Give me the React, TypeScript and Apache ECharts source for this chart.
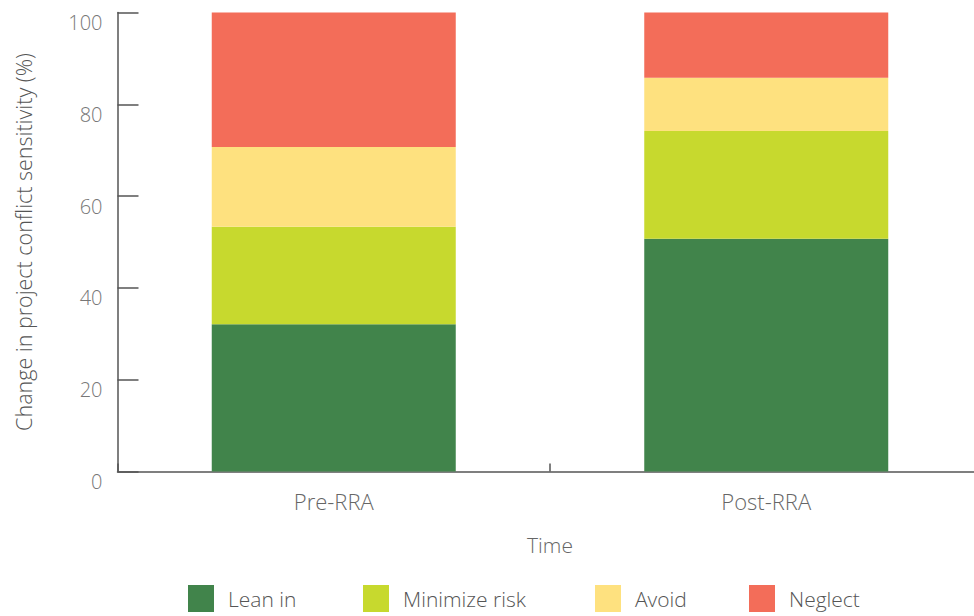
import React, { useEffect, useRef } from "react";
import * as echarts from "echarts";

const categories = ["Pre-RRA", "Post-RRA"];
const seriesNames = ["Lean in", "Minimize risk", "Avoid", "Neglect"];
const leanIn = [32.1, 50.7];
const minimizeRisk = [21.2, 23.5];
const avoid = [17.4, 11.6];
const neglect = [29.3, 14.2];
const yTicks = { min: 0, max: 100, interval: 20 };
const colors = ["#41844b", "#c7d92e", "#fee17f", "#f36d59"];
const legendLefts = [188, 363, 595, 749];

const FONT = "'Open Sans', Lato, sans-serif";

export default function App() {
  const ref = useRef<HTMLDivElement>(null);
  useEffect(() => {
    if (!ref.current) return;
    const chart = echarts.init(ref.current, undefined, { renderer: "svg" });
    const values = [leanIn, minimizeRisk, avoid, neglect];
    chart.setOption({
      animation: false,
      textStyle: { fontFamily: FONT },
      grid: {
        left: 117.5,
        width: 865,
        top: 12.5,
        bottom: 144.5,
        containLabel: false,
        outerBoundsMode: "none",
      },
      legend: seriesNames.map((name, i) => ({
        left: legendLefts[i],
        top: 585,
        padding: 0,
        itemWidth: 26,
        itemHeight: 27,
        icon: "rect",
        textStyle: { fontSize: 21, color: "#555", fontFamily: FONT, fontWeight: 300, padding: [0, 0, 0, 9] },
        data: [name],
      })),
      xAxis: {
        type: "category",
        data: categories,
        name: "Time",
        nameLocation: "middle",
        nameGap: 63,
        nameTextStyle: { fontSize: 21, color: "#666", fontFamily: FONT, fontWeight: 300 },
        axisLine: { lineStyle: { color: "#555", width: 1.5 } },
        axisTick: { show: true, inside: true, length: 8, lineStyle: { color: "#555", width: 1.5 } },
        axisLabel: { fontSize: 22, color: "#666", margin: 18, fontFamily: FONT, fontWeight: 300 },
      },
      yAxis: {
        type: "value",
        min: yTicks.min,
        max: yTicks.max,
        interval: yTicks.interval,
        name: "Change in project conflict sensitivity (%)",
        nameLocation: "middle",
        nameGap: 83,
        nameTextStyle: { fontSize: 21.5, color: "#555", fontFamily: FONT, fontWeight: 300 },
        splitLine: { show: false },
        axisLine: { show: true, lineStyle: { color: "#555", width: 1.5 } },
        axisTick: { show: true, inside: true, length: 21, lineStyle: { color: "#555", width: 1.5 } },
        axisLabel: {
          fontSize: 20,
          color: "#777",
          margin: 15,
          verticalAlign: "top",
          fontFamily: FONT,
          fontWeight: 300,
        },
      },
      series: seriesNames.map((name, i) => ({
        name,
        type: "bar",
        stack: "total",
        barWidth: 244,
        itemStyle: { color: colors[i] },
        data: values[i],
      })),
    });
    return () => chart.dispose();
  }, []);
  return (
    <div
      ref={ref}
      style={{ position: "absolute", left: 0, top: 0, width: 974, height: 616 }}
    />
  );
}
